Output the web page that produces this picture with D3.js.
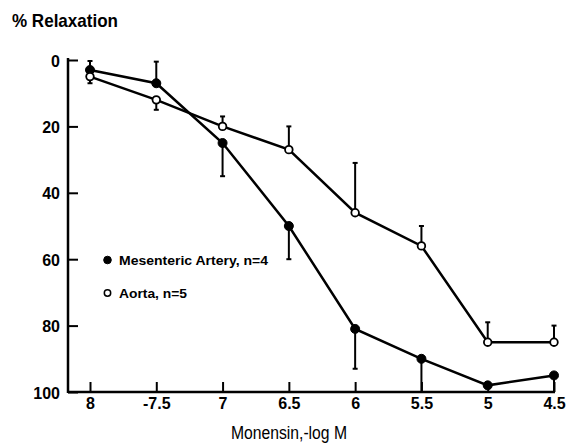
<!DOCTYPE html>
<html>
<head>
<meta charset="utf-8">
<script src="https://cdn.jsdelivr.net/npm/d3@7"></script>
<style>
  html, body { margin: 0; padding: 0; background: #fff; }
  svg { display: block; font-family: "Liberation Sans", Arial, Helvetica, sans-serif; }
</style>
</head>
<body>
<svg id="chart" width="569" height="444"></svg>
<script>
// ---- data ----
const doses = [8, 7.5, 7, 6.5, 6, 5.5, 5, 4.5];
const doseLabels = ["8", "-7.5", "7", "6.5", "6", "5.5", "5", "4.5"];
const yTicks = [0, 20, 40, 60, 80, 100];

const mesentericMean = [3, 7, 25, 50, 81, 90, 98, 95];
const mesentericSEM  = [2.7, 6.5, 10, 10, 12, 10, 0, 5];
const mesentericDir  = [-1, -1, 1, 1, 1, 1, 1, 1];   // -1 bar up, +1 bar down

const aortaMean = [5, 12, 20, 27, 46, 56, 85, 85];
const aortaSEM  = [2, 3, 3, 7, 15, 6, 6, 5];
const aortaDir  = [1, 1, -1, -1, -1, -1, -1, -1];

const seriesNames = ["Mesenteric Artery, n=4", "Aorta, n=5"];

// ---- layout ----
const svg = d3.select("#chart");
const x = d3.scaleLinear().domain([8, 4.5]).range([90, 554]);
const y = d3.scaleLinear().domain([0, 100]).range([60, 392]);
const axisX0 = 68;

const ink = "#000";

// axes
const gx = svg.append("g").attr("transform", `translate(0,${y(100)})`)
  .call(d3.axisBottom(x).tickValues(doses).tickSize(-10).tickPadding(6)
    .tickFormat((d, i) => doseLabels[i]));
gx.select(".domain").remove();
gx.append("line").attr("x1", axisX0).attr("x2", x(4.5) + 1).attr("y1", 0).attr("y2", 0)
  .attr("stroke", ink).attr("stroke-width", 2.5);
gx.selectAll(".tick line").attr("stroke", ink).attr("stroke-width", 2);
gx.selectAll(".tick text").attr("fill", ink).attr("font-size", 16).attr("font-weight", "bold")
  .attr("font-family", "Liberation Sans, Arial, sans-serif");

const gy = svg.append("g").attr("transform", `translate(${axisX0},0)`)
  .call(d3.axisLeft(y).tickValues(yTicks).tickSize(-10).tickPadding(8));
gy.select(".domain").remove();
gy.append("line").attr("x1", 0).attr("x2", 0).attr("y1", y(0) - 2).attr("y2", y(100) + 1)
  .attr("stroke", ink).attr("stroke-width", 2.5);
gy.selectAll(".tick line").attr("stroke", ink).attr("stroke-width", 2);
gy.selectAll(".tick text").attr("fill", ink).attr("font-size", 16).attr("font-weight", "bold")
  .attr("font-family", "Liberation Sans, Arial, sans-serif").attr("dy", "0.38em");

// series drawing
const series = [
  { mean: mesentericMean, sem: mesentericSEM, dir: mesentericDir, filled: true },
  { mean: aortaMean, sem: aortaSEM, dir: aortaDir, filled: false }
];

const line = d3.line().x((d, i) => x(doses[i])).y(d => y(d));

series.forEach(s => {
  const g = svg.append("g");
  // error bars
  s.mean.forEach((m, i) => {
    if (s.sem[i] <= 0) return;
    const end = Math.max(0, Math.min(100, m + s.dir[i] * s.sem[i]));
    g.append("line").attr("x1", x(doses[i])).attr("x2", x(doses[i]))
      .attr("y1", y(m)).attr("y2", y(end)).attr("stroke", ink).attr("stroke-width", 2);
    if (end < 100) {
      g.append("line").attr("x1", x(doses[i]) - 2.5).attr("x2", x(doses[i]) + 2.5)
        .attr("y1", y(end)).attr("y2", y(end)).attr("stroke", ink).attr("stroke-width", 2);
    }
  });
  g.append("path").datum(s.mean).attr("d", line).attr("fill", "none")
    .attr("stroke", ink).attr("stroke-width", 2.5);
});

series.forEach(s => {
  svg.append("g").selectAll("circle").data(s.mean).join("circle")
    .attr("cx", (d, i) => x(doses[i])).attr("cy", d => y(d))
    .attr("r", s.filled ? 4.5 : 3.8)
    .attr("fill", s.filled ? ink : "#fff")
    .attr("stroke", ink).attr("stroke-width", s.filled ? 1 : 1.8);
});

// legend
const legend = svg.append("g");
[[260, true], [293, false]].forEach(([ly, filled], i) => {
  legend.append("circle").attr("cx", 107.5).attr("cy", ly).attr("r", filled ? 3.8 : 3.2)
    .attr("fill", filled ? ink : "#fff").attr("stroke", ink).attr("stroke-width", filled ? 1 : 1.5);
  legend.append("text").attr("x", 119).attr("y", ly + 4.5).attr("font-size", 12)
    .attr("font-weight", "bold").attr("fill", ink)
    .attr("textLength", i === 0 ? 149 : 68).attr("lengthAdjust", "spacingAndGlyphs")
    .text(seriesNames[i]);
});

// titles
svg.append("text").attr("x", 12).attr("y", 27).attr("font-size", 19).attr("font-weight", "bold")
  .attr("fill", ink).attr("textLength", 106).attr("lengthAdjust", "spacingAndGlyphs")
  .text("% Relaxation");
svg.append("text").attr("x", 231).attr("y", 439).attr("font-size", 18)
  .attr("fill", ink).attr("textLength", 116).attr("lengthAdjust", "spacingAndGlyphs")
  .text("Monensin,-log  M");
</script>
</body>
</html>
